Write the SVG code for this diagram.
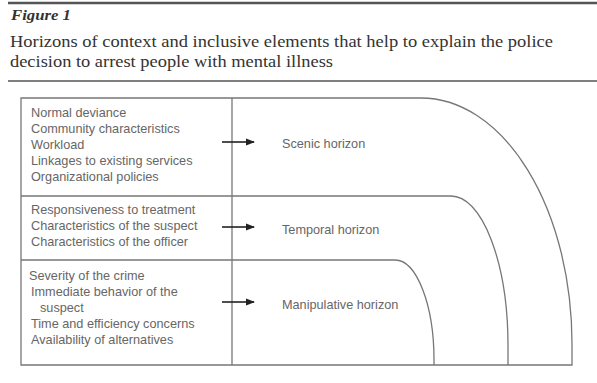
<svg xmlns="http://www.w3.org/2000/svg" width="597" height="383" viewBox="0 0 597 383">
<style>
.rule{stroke:#555;fill:none}
.ttl{font-family:"Liberation Serif",serif;fill:#333}
.item{font-family:"Liberation Sans",Arial,sans-serif;font-size:12.7px;fill:#666}
.hz{font-family:"Liberation Sans",Arial,sans-serif;font-size:12.7px;fill:#666}
.ln{stroke:#777;stroke-width:1.3;fill:none}
.arr{stroke:#222;stroke-width:1.6;fill:none;marker-end:url(#ah)}
</style>
<defs>
<marker id="ah" markerWidth="9" markerHeight="9" refX="8" refY="4.5" orient="auto" markerUnits="userSpaceOnUse">
<path d="M0,1 L9,4.5 L0,8 Z" fill="#222"/>
</marker>
</defs>
<rect width="597" height="383" fill="#fff"/>
<g id="header">
<line class="rule" x1="8" y1="3" x2="597" y2="3" stroke-width="2.5"/>
<text class="ttl" x="11" y="20" font-size="15" font-weight="bold" font-style="italic" fill="#222" textLength="60" lengthAdjust="spacingAndGlyphs">Figure 1</text>
<text class="ttl" x="10" y="47" font-size="17" textLength="543" lengthAdjust="spacingAndGlyphs">Horizons of context and inclusive elements that help to explain the police</text>
<text class="ttl" x="10" y="67" font-size="17" textLength="323" lengthAdjust="spacingAndGlyphs">decision to arrest people with mental illness</text>
<line class="rule" x1="8" y1="81" x2="597" y2="81" stroke-width="1.5"/>
</g>
<g id="frame">
<path class="ln" d="M21,98 H421 A151,246 0 0 1 572,344 V365 H21 Z"/>
<line class="ln" x1="232" y1="98" x2="232" y2="365"/>
</g>
<g id="scenic">
<text class="item" x="31" y="117">Normal deviance</text>
<text class="item" x="31" y="133">Community characteristics</text>
<text class="item" x="31" y="149">Workload</text>
<text class="item" x="31" y="165">Linkages to existing services</text>
<text class="item" x="31" y="181">Organizational policies</text>
<text class="hz" x="282" y="148">Scenic horizon</text>
</g>
<g id="temporal">
<path class="ln" d="M21,196 H451 A57,150 0 0 1 508,346 V365"/>
<text class="item" x="31" y="214">Responsiveness to treatment</text>
<text class="item" x="31" y="230">Characteristics of the suspect</text>
<text class="item" x="31" y="246">Characteristics of the officer</text>
<text class="hz" x="282" y="234">Temporal horizon</text>
</g>
<g id="manipulative">
<path class="ln" d="M21,260 H395 A39,100 0 0 1 434,360 V365"/>
<text class="item" x="29" y="280">Severity of the crime</text>
<text class="item" x="31" y="296">Immediate behavior of the</text>
<text class="item" x="40" y="312">suspect</text>
<text class="item" x="31" y="328">Time and efficiency concerns</text>
<text class="item" x="31" y="344">Availability of alternatives</text>
<text class="hz" x="282" y="309">Manipulative horizon</text>
</g>
<g id="connectors">
<line class="arr" x1="222" y1="142" x2="254" y2="142"/>
<line class="arr" x1="222" y1="227" x2="254" y2="227"/>
<line class="arr" x1="222" y1="302" x2="254" y2="302"/>
</g>
</svg>
